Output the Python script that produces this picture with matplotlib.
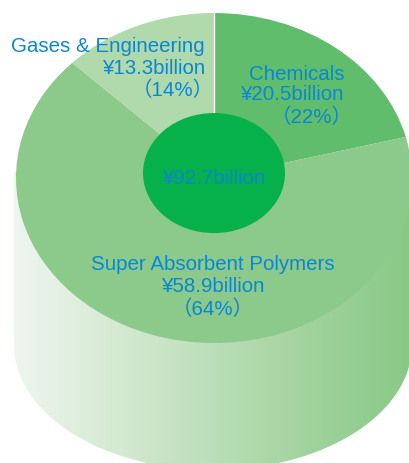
import matplotlib
matplotlib.use('Agg')
import matplotlib.pyplot as plt
from matplotlib.colors import LinearSegmentedColormap
from matplotlib.patches import Ellipse, PathPatch
from matplotlib.path import Path
import numpy as np

plt.rcParams['font.family'] = ['Liberation Sans', 'Noto Sans CJK JP']

# shares as drawn in the picture (the drawn wedges differ a bit from the printed %)
segments = ['Chemicals', 'Super Absorbent Polymers', 'Gases & Engineering']
amounts = ['20.5', '58.9', '13.3']
percents = ['22', '64', '14']
drawn_shares = [21.0, 66.3, 12.7]
total = '92.7'
colors = ['#5fbd6b', '#8bca8b', '#b0d9ac']
text_color = '#0a87d2'
W, H = 409, 463

fig = plt.figure(figsize=(W / 100, H / 100), dpi=100)

# side of the drum, in pixel coordinates
ax_side = fig.add_axes([0, 0, 1, 1])
ax_side.set_xlim(0, W)
ax_side.set_ylim(H, 0)
ax_side.axis('off')
side_cmap = LinearSegmentedColormap.from_list(
    'side', [(0, '#eef6ee'), (0.25, '#d6ead3'), (0.45, '#c0e1bd'), (0.75, '#a0d29c'), (1, '#88c986')])
grad = ax_side.imshow(np.linspace(0, 1, 256).reshape(1, -1), cmap=side_cmap, aspect='auto',
                      extent=[14, 412, H, 172], zorder=1)
t = np.linspace(np.pi, 0, 100)
xs = 213 + 199 * np.cos(t)
ys = 345 + 125 * np.sin(t)
verts = [(14, 172)] + list(zip(xs, ys)) + [(412, 172), (14, 172)]
side = PathPatch(Path(verts), transform=ax_side.transData, fc='none', ec='none')
ax_side.add_patch(side)
grad.set_clip_path(side)
ax_side.set_xlim(0, W)
ax_side.set_ylim(H, 0)

# top face: unit circle stretched to the ellipse
ax_top = fig.add_axes([16 / W, 1 - 343 / H, 396 / W, 330 / H])
ax_top.patch.set_alpha(0)
ax_top.pie(drawn_shares, colors=colors, startangle=90, counterclock=False, radius=1)
ax_top.set_aspect('auto')
ax_top.set_xlim(-1, 1)
ax_top.set_ylim(-1, 1)
ax_top.plot([0, 0], [0, 1], color='white', lw=1, zorder=3)
ax_top.add_patch(Ellipse((0, 0.03), 2 * 71 / 198, 2 * 60 / 165, fc='#06b04a', ec='none', zorder=4))


def label(x, y, s, ha):
    fig.text(x / W, 1 - y / H, s, ha=ha, va='center', color=text_color, fontsize=14.8, zorder=10)


label(344, 74, segments[0], 'right')
label(344, 95, '¥' + amounts[0] + 'billion', 'right')
label(353, 117, '（' + percents[0] + '%）', 'right')

label(213, 265, segments[1], 'center')
label(213, 287, '¥' + amounts[1] + 'billion', 'center')
label(213, 309, '（' + percents[1] + '%）', 'center')

label(205, 47, segments[2], 'right')
label(205, 69, '¥' + amounts[2] + 'billion', 'right')
label(214, 90, '（' + percents[2] + '%）', 'right')

label(214, 179, '¥' + total + 'billion', 'center')

fig.savefig('out.png', dpi=100)
